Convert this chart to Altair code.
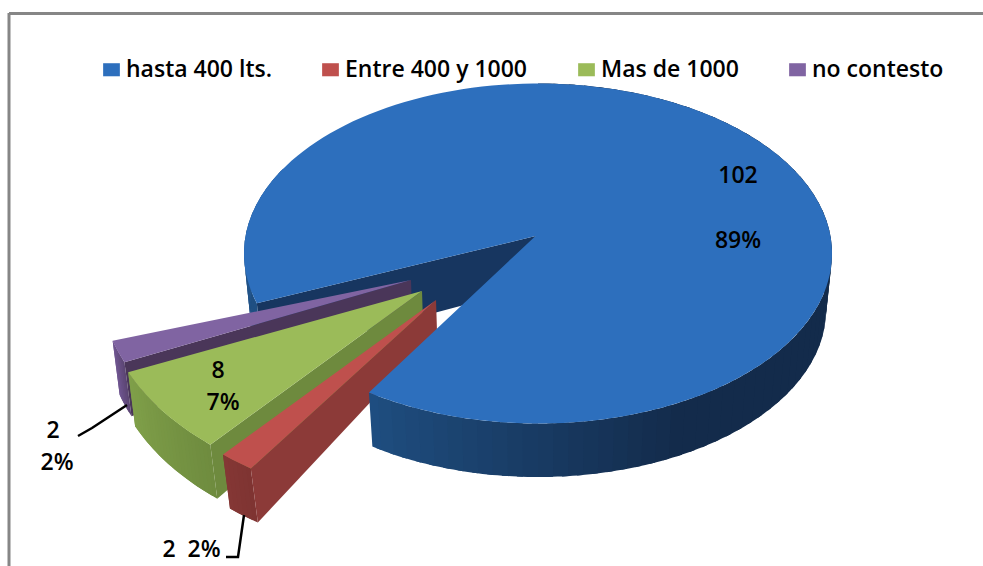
import math
import altair as alt

categories = ["hasta 400 lts.", "Entre 400 y 1000", "Mas de 1000", "no contesto"]
counts = [102, 2, 8, 2]

FONT = "Open Sans"
TOP_COLORS = ["#2d6fbd", "#bf504d", "#9bbb59", "#8064a2"]
INNER_COLORS = ["#173660", "#8c3a38", "#6e8a3e", "#4a3659"]
START_ANGLE = 253.0

total = sum(counts)
spans = [c / total * 360 for c in counts]
starts = [START_ANGLE + sum(spans[:i]) for i in range(len(counts))]


def mix(a, b, t):
    t = max(0.0, min(1.0, t))
    ca = [int(a[i:i + 2], 16) for i in (1, 3, 5)]
    cb = [int(b[i:i + 2], 16) for i in (1, 3, 5)]
    return "#" + "".join(f"{round(x + (y - x) * t):02x}" for x, y in zip(ca, cb))


def rim(center, radii, theta):
    rad = math.radians(theta)
    return [center[0] + radii[0] * math.sin(rad), center[1] - radii[1] * math.cos(rad)]


def arc(center, radii, a, b, step=2.0):
    n = max(1, int(abs(b - a) / step))
    return [rim(center, radii, a + (b - a) * i / n) for i in range(n + 1)]


features = []


def add(points, key):
    ring = [list(p) for p in points] + [list(points[0])]
    features.append({
        "type": "Feature",
        "geometry": {"type": "Polygon", "coordinates": [ring]},
        "properties": {"key": key},
    })


# Main slice: the top ellipse and a slightly narrower, lower base ellipse.
blue_c, blue_r = (538, 253.5), (294, 170)
base_c, base_r = (538, 310), (288, 167)
blue_apex, blue_apex_low = (535.5, 236), (535, 286)
a0, a1 = starts[0], starts[0] + spans[0]


def blue_shade(theta):
    t = theta % 360
    if t >= 216 and t < 300 and theta < 360:
        return mix("#2a609c", "#1f4f82", (300 - t) / 40)
    if t < 150:
        return "#132b4b"
    return mix("#132b4b", "#1f4f82", (t - 150) / 66)


def blue_wall(a, b, step=3.0):
    th = a
    while th < b:
        nxt = min(th + step + 1.2, b)
        add(arc(blue_c, blue_r, th, nxt, 1) + arc(base_c, base_r, nxt, th, 1), blue_shade(th))
        th += step


# Rear parts of the main slice sit behind the exploded slices.
add([blue_apex, rim(blue_c, blue_r, a0), rim(base_c, base_r, a0), blue_apex_low], INNER_COLORS[0])
blue_wall(a0, 300)

# Exploded slices, drawn from back to front.
exploded = {
    3: {"apex": (411, 280), "radii": (312, 208), "wall": ("#6f5590", "#5c4674")},
    2: {"apex": (422, 291), "radii": (320, 205), "wall": ("#7f9f49", "#6f8c3f")},
    1: {"apex": (436, 300), "radii": (322, 206), "wall": ("#843735", "#7f3432")},
}
RIM_DROP = (7, 54)
APEX_DROP = (1, 31)
for i in (3, 2, 1):
    s = exploded[i]
    a, b = starts[i], starts[i] + spans[i]
    apex = s["apex"]
    top_arc = arc(apex, s["radii"], a, b, 1)
    low_arc = [[x + RIM_DROP[0], y + RIM_DROP[1]] for x, y in top_arc]
    apex_low = (apex[0] + APEX_DROP[0], apex[1] + APEX_DROP[1])
    # The outer wall darkens a little towards the front edge.
    for j in range(len(top_arc) - 1):
        k = min(j + 2, len(top_arc) - 1)
        shade = mix(s["wall"][1], s["wall"][0], j / max(1, len(top_arc) - 2))
        add(top_arc[j:k + 1] + low_arc[j:k + 1][::-1], shade)
    add([apex, top_arc[0], low_arc[0], apex_low], INNER_COLORS[i])
    add([apex] + top_arc, TOP_COLORS[i])

# Front of the main slice overlaps the red slice.
blue_wall(360, a1)
add([blue_apex] + arc(blue_c, blue_r, a0, a1), TOP_COLORS[0])

used = []
for f in features:
    k = f["properties"]["key"]
    if k not in TOP_COLORS and k not in used:
        used.append(k)
for f in features:
    k = f["properties"]["key"]
    if k in TOP_COLORS:
        f["properties"]["key"] = categories[TOP_COLORS.index(k)]

pct = [f"{round(c / total * 100)}%" for c in counts]
labels = [
    {"x": 738, "y": 176, "t": str(counts[0])},
    {"x": 738, "y": 241, "t": pct[0]},
    {"x": 218, "y": 371, "t": str(counts[2])},
    {"x": 223, "y": 403, "t": pct[2]},
    {"x": 53, "y": 431, "t": str(counts[3])},
    {"x": 57, "y": 463, "t": pct[3]},
    {"x": 169, "y": 550, "t": str(counts[1])},
    {"x": 204, "y": 550, "t": pct[1]},
]
leaders = [
    {"g": "a", "o": 0, "x": 127, "y": 405},
    {"g": "a", "o": 1, "x": 92, "y": 428},
    {"g": "a", "o": 2, "x": 78, "y": 436},
    {"g": "b", "o": 0, "x": 244, "y": 515},
    {"g": "b", "o": 1, "x": 238, "y": 557},
    {"g": "b", "o": 2, "x": 226, "y": 557},
]
frame = [
    {"g": "top", "o": 0, "x": 9, "y": 13.5},
    {"g": "top", "o": 1, "x": 983, "y": 13.5},
    {"g": "left", "o": 0, "x": 9, "y": 13},
    {"g": "left", "o": 1, "x": 9, "y": 566},
]

px = alt.X("x:Q", scale=None, axis=None)
py = alt.Y("y:Q", scale=None, axis=None)

pie = (
    alt.Chart(alt.Data(values=features))
    .mark_geoshape(strokeWidth=0)
    .encode(
        fill=alt.Fill(
            "properties.key:N",
            scale=alt.Scale(domain=categories + used, range=TOP_COLORS + used),
            legend=alt.Legend(
                title=None,
                values=categories,
                orient="none",
                legendX=100,
                legendY=58,
                direction="horizontal",
                columns=4,
                columnPadding=47,
                symbolType="M-1,-0.78H1V0.78H-1Z",
                symbolSize=280,
                symbolStrokeWidth=0,
                labelFont=FONT,
                labelFontSize=23,
                labelFontWeight=600,
                labelColor="black",
                labelOffset=3,
                labelLimit=300,
                symbolOffset=0,
            ),
        )
    )
    .project(type="identity", scale=1, translate=[0, 0])
)

frame_layer = (
    alt.Chart(alt.Data(values=frame))
    .mark_line(color="#868686", strokeWidth=3)
    .encode(x=px, y=py, detail="g:N", order="o:Q")
)
leader_layer = (
    alt.Chart(alt.Data(values=leaders))
    .mark_line(color="black", strokeWidth=2.5)
    .encode(x=px, y=py, detail="g:N", order="o:Q")
)
label_layer = (
    alt.Chart(alt.Data(values=labels))
    .mark_text(font=FONT, fontSize=23, fontWeight=600, color="black", align="center", baseline="middle")
    .encode(x=px, y=py, text="t:N")
)

chart = (
    alt.layer(pie, frame_layer, leader_layer, label_layer)
    .properties(width=983, height=566, padding=0, autosize=alt.AutoSizeParams(type="none"), background="white")
    .configure_view(stroke=None)
)

chart.save("out.html", embed_options={"renderer": "svg", "actions": False})
